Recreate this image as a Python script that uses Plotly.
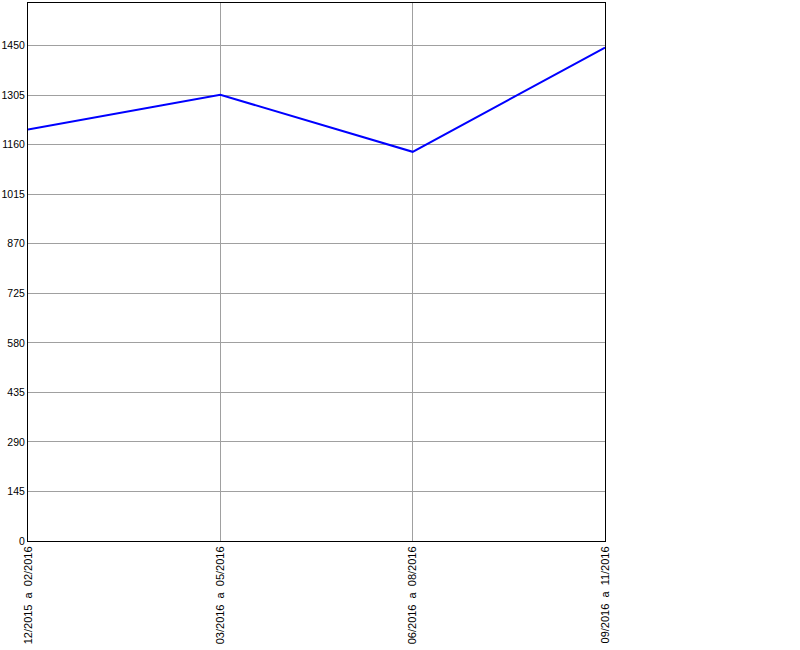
import plotly.graph_objects as go

categories = ["12/2015  a  02/2016", "03/2016  a  05/2016", "06/2016  a  08/2016", "09/2016  a  11/2016"]
values = [1204, 1306, 1139, 1444]
y_ticks = [0, 145, 290, 435, 580, 725, 870, 1015, 1160, 1305, 1450]

fig = go.Figure()
fig.add_trace(go.Scatter(
    x=list(range(len(categories))), y=values, mode="lines",
    line=dict(color="#0000FF", width=2), hoverinfo="skip", showlegend=False,
))

fig.update_layout(
    width=800, height=650,
    margin=dict(l=28, r=195, t=3, b=109, pad=0, autoexpand=False),
    paper_bgcolor="white", plot_bgcolor="white",
    font=dict(family="Liberation Sans, Arial, sans-serif", size=11, color="black"),
    showlegend=False,
)
fig.update_xaxes(
    range=[0, 3], tickmode="array", tickvals=list(range(len(categories))), ticktext=categories,
    tickangle=-90, showgrid=True, gridcolor="#a0a0a0", gridwidth=1,
    showline=True, linecolor="black", linewidth=1, mirror=True,
    ticks="", automargin=False, zeroline=False, tickfont=dict(size=11),
    ticklabelstandoff=0,
)
fig.update_yaxes(
    range=[0, 1574.5], tickmode="array", tickvals=y_ticks, ticktext=[str(v) for v in y_ticks],
    showgrid=True, gridcolor="#a0a0a0", gridwidth=1,
    showline=True, linecolor="black", linewidth=1, mirror=True,
    ticks="", zeroline=False, automargin=False, tickfont=dict(size=10.5),
    ticklabelstandoff=0,
)

fig.write_html("out.html", config={"displayModeBar": False},
               post_script="document.body.style.margin='0';document.body.style.padding='0';")
